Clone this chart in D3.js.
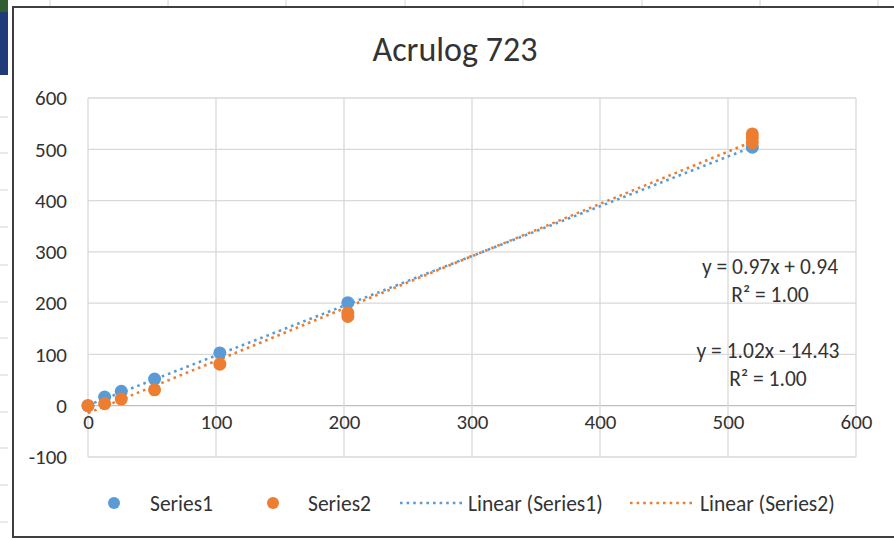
<!DOCTYPE html>
<html>
<head>
<meta charset="utf-8">
<script src="https://cdn.jsdelivr.net/npm/d3@7/dist/d3.min.js"></script>
<style>
  html, body { margin: 0; padding: 0; background: #ffffff; }
  svg { display: block; }
  text { font-family: Calibri, Carlito, Lato, "Open Sans", sans-serif; fill: #333333; }
</style>
</head>
<body>
<svg id="chart" width="894" height="540"></svg>
<script>
// ---- Data ----
const title = "Acrulog 723";
const series1X = [0, 13, 26, 52, 103, 203, 519];
const series1Y = [0, 17, 28, 52, 103, 201, 504];
const series2X = [0, 13, 26, 52, 103, 203, 203, 519, 519, 519];
const series2Y = [0, 4, 13, 31, 81, 181, 174, 530, 522, 513];
const seriesNames = ["Series1", "Series2"];
const trendSlopes = [0.97, 1.02];
const trendIntercepts = [0.94, -14.43];
const trendLabels = ["y = 0.97x + 0.94", "y = 1.02x - 14.43"];
const r2Labels = ["R² = 1.00", "R² = 1.00"];
const legendLabels = ["Series1", "Series2", "Linear (Series1)", "Linear (Series2)"];
const xTicks = [0, 100, 200, 300, 400, 500, 600];
const yTicks = [-100, 0, 100, 200, 300, 400, 500, 600];
const colors = ["#5b9bd5", "#ed7d31"];

const svg = d3.select("#chart");

// ---- spreadsheet background peeking around the chart ----
const bg = svg.append("g");
[50, 168, 286, 405, 523, 642, 760, 878].forEach(x => {
  bg.append("line").attr("x1", x).attr("x2", x).attr("y1", 0).attr("y2", 7)
    .attr("stroke", "#d4d4d4").attr("stroke-width", 1);
});
[117, 153, 190, 227, 265, 302, 338, 375, 412, 448, 485, 522].forEach(y => {
  bg.append("line").attr("x1", 0).attr("x2", 8).attr("y1", y).attr("y2", y)
    .attr("stroke", "#d4d4d4").attr("stroke-width", 1);
});
bg.append("rect").attr("x", 0).attr("y", 0).attr("width", 8).attr("height", 12).attr("fill", "#2e5e31");
bg.append("rect").attr("x", 0).attr("y", 12).attr("width", 8).attr("height", 63).attr("fill", "#1f3b7a");

// chart area
svg.append("rect").attr("x", 13).attr("y", 7).attr("width", 900).attr("height", 530)
  .attr("fill", "#ffffff").attr("stroke", "#3f3f3f").attr("stroke-width", 2);

// ---- scales ----
const x = d3.scaleLinear().domain([0, 600]).range([88, 856]);
const y = d3.scaleLinear().domain([-100, 600]).range([457, 98]);

// gridlines
const grid = svg.append("g");
grid.selectAll("line.h").data(yTicks).join("line")
  .attr("x1", x(0)).attr("x2", x(600))
  .attr("y1", d => y(d)).attr("y2", d => y(d))
  .attr("stroke", d => d === 0 ? "#bfbfbf" : "#d9d9d9").attr("stroke-width", 1.3);
grid.selectAll("line.v").data(xTicks).join("line")
  .attr("y1", y(-100)).attr("y2", y(600))
  .attr("x1", d => x(d)).attr("x2", d => x(d))
  .attr("stroke", "#d9d9d9").attr("stroke-width", 1.3);

const tickFont = 21;
const fmt = d => String(d);

// axes labels (via d3 axes, domain/ticks hidden)
const yAxis = d3.axisLeft(y).tickValues(yTicks).tickSize(0).tickPadding(0).tickFormat(fmt);
const gy = svg.append("g").attr("transform", `translate(${67},0)`).call(yAxis);
gy.select(".domain").remove();
gy.selectAll("text").attr("font-size", tickFont).attr("fill", "#333333")
  .style("font-family", "Calibri, Carlito, Lato, sans-serif");

const xAxis = d3.axisBottom(x).tickValues(xTicks).tickSize(0).tickPadding(0).tickFormat(fmt);
const gx = svg.append("g").attr("transform", `translate(0,${y(0) + 17})`).call(xAxis);
gx.select(".domain").remove();
gx.selectAll("text").attr("font-size", tickFont).attr("fill", "#333333").attr("dy", "0.32em")
  .style("font-family", "Calibri, Carlito, Lato, sans-serif");

// ---- trendlines ----
const dash = "2.6,4";
const xMaxes = [d3.max(series1X), d3.max(series2X)];
const line = d3.line().x(d => x(d[0])).y(d => y(d[1]));
[0, 1].forEach(i => {
  const pts = [0, xMaxes[i]].map(v => [v, trendSlopes[i] * v + trendIntercepts[i]]);
  svg.append("path").attr("d", line(pts)).attr("fill", "none")
    .attr("stroke", colors[i]).attr("stroke-width", 2.6)
    .attr("stroke-dasharray", dash);
});

// ---- points ----
const s1 = series1X.map((v, i) => [v, series1Y[i]]);
const s2 = series2X.map((v, i) => [v, series2Y[i]]);
svg.append("g").selectAll("circle").data(s1).join("circle")
  .attr("cx", d => x(d[0])).attr("cy", d => y(d[1])).attr("r", 6.5).attr("fill", colors[0]);
svg.append("g").selectAll("circle").data(s2).join("circle")
  .attr("cx", d => x(d[0])).attr("cy", d => y(d[1])).attr("r", 6.5).attr("fill", colors[1]);

// ---- equation labels ----
const eqFont = 21.5;
const eqPos = [[770, 266, 294], [768, 350, 378]];
[0, 1].forEach(i => {
  svg.append("text").attr("x", eqPos[i][0]).attr("y", eqPos[i][1]).attr("dy", "0.35em")
    .attr("text-anchor", "middle").attr("font-size", eqFont).text(trendLabels[i]);
  svg.append("text").attr("x", eqPos[i][0]).attr("y", eqPos[i][2]).attr("dy", "0.35em")
    .attr("text-anchor", "middle").attr("font-size", eqFont).text(r2Labels[i]);
});

// ---- title ----
svg.append("text").attr("x", 455).attr("y", 49).attr("dy", "0.35em")
  .attr("text-anchor", "middle").attr("font-size", 34).text(title);

// ---- legend ----
const legFont = 21.5;
const ly = 503;
const leg = svg.append("g");
leg.append("circle").attr("cx", 114).attr("cy", ly).attr("r", 6).attr("fill", colors[0]);
leg.append("text").attr("x", 150).attr("y", ly).attr("dy", "0.35em").attr("font-size", legFont).text(legendLabels[0]);
leg.append("circle").attr("cx", 273).attr("cy", ly).attr("r", 6).attr("fill", colors[1]);
leg.append("text").attr("x", 308).attr("y", ly).attr("dy", "0.35em").attr("font-size", legFont).text(legendLabels[1]);
leg.append("line").attr("x1", 400).attr("x2", 463).attr("y1", ly).attr("y2", ly)
  .attr("stroke", colors[0]).attr("stroke-width", 2.6).attr("stroke-dasharray", dash);
leg.append("text").attr("x", 468).attr("y", ly).attr("dy", "0.35em").attr("font-size", legFont).text(legendLabels[2]);
leg.append("line").attr("x1", 630).attr("x2", 693).attr("y1", ly).attr("y2", ly)
  .attr("stroke", colors[1]).attr("stroke-width", 2.6).attr("stroke-dasharray", dash);
leg.append("text").attr("x", 700).attr("y", ly).attr("dy", "0.35em").attr("font-size", legFont).text(legendLabels[3]);
</script>
</body>
</html>
